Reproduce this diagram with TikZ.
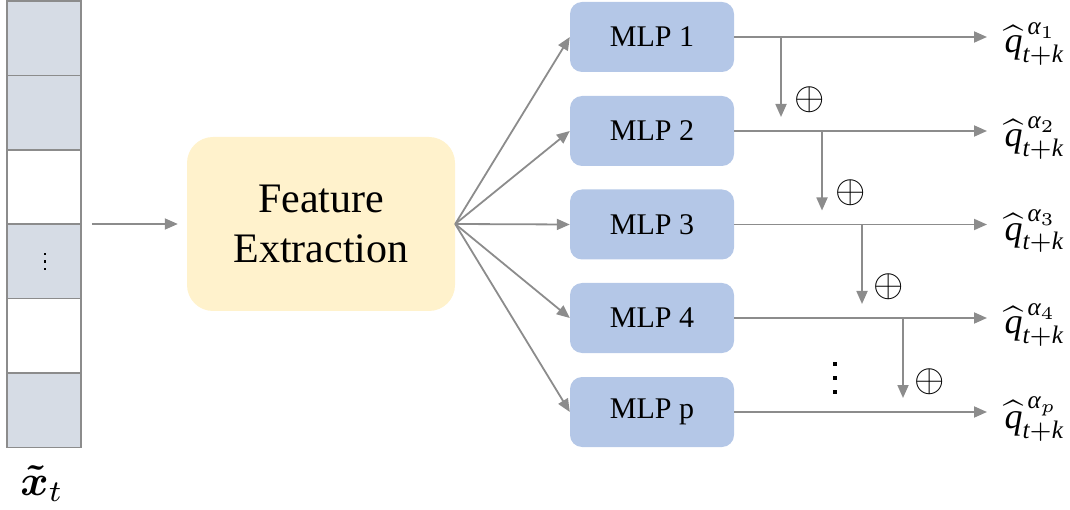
\documentclass[tikz,border=0pt]{standalone}
\usepackage{amsmath}
\usepackage{fontspec}
\setmainfont{Liberation Serif}
\usetikzlibrary{arrows.meta,calc}

\definecolor{cellgray}{HTML}{D6DCE5}
\definecolor{cellline}{HTML}{8C8C8C}
\definecolor{mlpblue}{HTML}{B4C7E7}
\definecolor{feyellow}{HTML}{FFF2CC}
\definecolor{wire}{HTML}{8C8C8C}

\newcommand{\ti}[1]{\text{\itshape #1}}
\newcommand{\qhat}[1]{$\widehat{\ti{q}}^{\,\ti{α}_{#1}}_{\ti{t}+\ti{k}}$}

\tikzset{
  cell/.style={draw=cellline, line width=1.6pt, minimum width=74pt, minimum height=74.4pt, inner sep=0pt},
  febox/.style={fill=feyellow, rounded corners=26pt, minimum width=268pt, minimum height=174pt,
                align=center, font=\fontsize{42}{50}\selectfont, inner sep=0pt},
  mlpbox/.style={fill=mlpblue, rounded corners=12pt, minimum width=164pt, minimum height=70pt,
                 font=\fontsize{30}{32}\selectfont, inner sep=0pt},
  wireline/.style={draw=wire, line width=1.8pt},
  arr/.style={wireline, -{Triangle[length=13pt,width=11pt]}},
  outlabel/.style={anchor=base west, inner sep=0pt, scale=3.6},
  plus/.style={inner sep=0pt, scale=3.9},
  dot/.style={fill=black, minimum size=#1, inner sep=0pt}
}

\begin{document}
\begin{tikzpicture}[x=1pt, y=-1pt]
\useasboundingbox (0,0) rectangle (1070,510);

% input column of cells
\foreach \i/\f in {1/cellgray,2/cellgray,3/white,4/cellgray,5/white,6/cellgray}
  \node[cell, fill=\f] (c\i) at (44, {1+74.4*(\i-0.5)}) {};
\node[dot=2.4pt] (cd1) at (45,254) {};
\node[dot=2.4pt] (cd2) at (45,261.5) {};
\node[dot=2.4pt] (cd3) at (45,269) {};
\node[anchor=base, inner sep=0pt, scale=4.3] (xlabel) at (42,495) {$\boldsymbol{\tilde{x}}_t$};

% feature extractor
\node[febox] (fe) at (321,224) {Feature\\Extraction};
\draw[arr, shorten <=10pt, shorten >=9pt] (c1.east |- fe.west) -- (fe.west);

% heads
\foreach \i/\y/\n in {1/37/1, 2/131/2, 3/224.5/3, 4/318/4, 5/412/p} {
  \node[mlpbox] (m\i) at (652,\y) {MLP \n};
  \draw[arr] (fe.east) -- (m\i.west);
  \coordinate (o\i) at (987,\y);
  \draw[arr] (m\i.east) -- (o\i);
  \node[outlabel] (q\i) at (1004,\y+16) {\qhat{\n}};
}

% residual additions between neighbouring heads
\foreach \i/\x in {1/781, 2/822, 3/862, 4/903} {
  \pgfmathtruncatemacro{\j}{\i+1}
  \coordinate (s\i) at (\x,0 |- m\i.east);
  \coordinate (e\i) at ($(\x,0 |- m\j.east) + (0,-14)$);
  \draw[arr] (s\i) -- (e\i);
}
\node[plus] (p1) at (810,100) {$\oplus$};
\node[plus] (p2) at (851,193) {$\oplus$};
\node[plus] (p3) at (889,287) {$\oplus$};
\node[plus] (p4) at (930,382) {$\oplus$};

% ellipsis between the last two heads
\node[dot=4pt] (d1) at (835,364) {};
\node[dot=4pt] (d2) at (835,378) {};
\node[dot=4pt] (d3) at (835,392) {};
\end{tikzpicture}
\end{document}
